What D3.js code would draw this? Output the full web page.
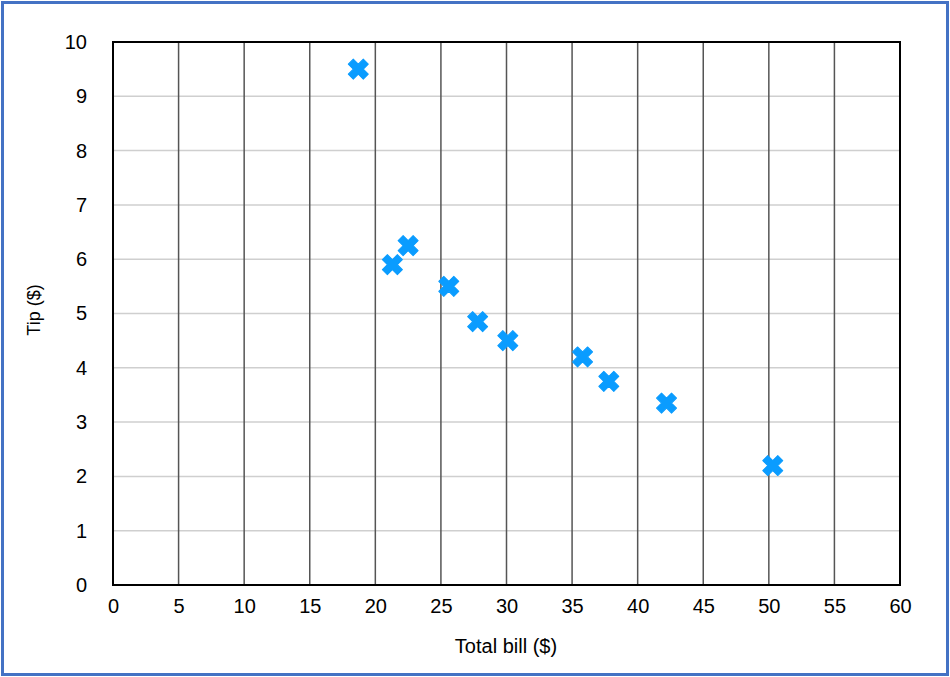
<!DOCTYPE html>
<html>
<head>
<meta charset="utf-8">
<script src="https://cdn.jsdelivr.net/npm/d3@7"></script>
<style>
  body { margin: 0; background: #fff; }
  svg { display: block; font-family: "Liberation Sans", Arial, sans-serif; }
</style>
</head>
<body>
<script>
// data
var totalBill = [18.7, 21.3, 22.5, 25.6, 27.8, 30.1, 35.8, 37.8, 42.2, 50.3];
var tips = [9.5, 5.9, 6.25, 5.5, 4.85, 4.5, 4.2, 3.75, 3.35, 2.2];
var xTicks = [0, 5, 10, 15, 20, 25, 30, 35, 40, 45, 50, 55, 60];
var yTicks = [0, 1, 2, 3, 4, 5, 6, 7, 8, 9, 10];

var width = 950, height = 677;
var plotLeft = 113, plotRight = 900, plotTop = 42, plotBottom = 585;

var svg = d3.select('body').append('svg')
	.attr('width', width)
	.attr('height', height);

// outer blue frame
svg.append('rect')
	.attr('x', 2.5).attr('y', 2.5)
	.attr('width', width - 5).attr('height', height - 5)
	.attr('fill', '#fff')
	.attr('stroke', '#4472c4')
	.attr('stroke-width', 3);

var x = d3.scaleLinear().domain([0, 60]).range([plotLeft, plotRight]);
var y = d3.scaleLinear().domain([0, 10]).range([plotBottom, plotTop]);

// horizontal grid (light)
svg.append('g').selectAll('line')
	.data(yTicks.slice(1, -1))
	.enter().append('line')
	.attr('x1', plotLeft).attr('x2', plotRight)
	.attr('y1', function(d) { return y(d); })
	.attr('y2', function(d) { return y(d); })
	.attr('stroke', '#cfcfcf')
	.attr('stroke-width', 1.5);

// vertical grid (dark)
svg.append('g').selectAll('line')
	.data(xTicks.slice(1, -1))
	.enter().append('line')
	.attr('y1', plotTop).attr('y2', plotBottom)
	.attr('x1', function(d) { return x(d); })
	.attr('x2', function(d) { return x(d); })
	.attr('stroke', '#555')
	.attr('stroke-width', 1.5);

// frame of the plot
svg.append('rect')
	.attr('x', plotLeft).attr('y', plotTop)
	.attr('width', plotRight - plotLeft).attr('height', plotBottom - plotTop)
	.attr('fill', 'none')
	.attr('stroke', '#000')
	.attr('stroke-width', 2);

// axes (labels only)
var xAxis = svg.append('g')
	.attr('transform', 'translate(0,' + plotBottom + ')')
	.call(d3.axisBottom(x).tickValues(xTicks).tickSize(0).tickPadding(14));
var yAxis = svg.append('g')
	.attr('transform', 'translate(' + plotLeft + ',0)')
	.call(d3.axisLeft(y).tickValues(yTicks).tickSize(0).tickPadding(26));
[xAxis, yAxis].forEach(function(a) {
	a.select('.domain').remove();
	a.selectAll('text')
		.attr('font-size', 20)
		.attr('font-family', '"Liberation Sans", Arial, sans-serif')
		.attr('fill', '#000');
});

// axis titles
svg.append('text')
	.attr('x', 506)
	.attr('y', 653)
	.attr('text-anchor', 'middle')
	.attr('font-size', 20)
	.text('Total bill ($)');

svg.append('text')
	.attr('transform', 'translate(40,310) rotate(-90)')
	.attr('text-anchor', 'middle')
	.attr('font-size', 18)
	.text('Tip ($)');

// points
var cross = d3.symbol().type(d3.symbolCross).size(250);
svg.append('g').selectAll('path')
	.data(totalBill)
	.enter().append('path')
	.attr('d', cross)
	.attr('transform', function(d, i) {
		return 'translate(' + x(d) + ',' + y(tips[i]) + ') rotate(45)';
	})
	.attr('fill', '#0a9cff')
	.attr('stroke', '#0a9cff')
	.attr('stroke-width', 1)
	.attr('stroke-linejoin', 'round');
</script>
</body>
</html>
